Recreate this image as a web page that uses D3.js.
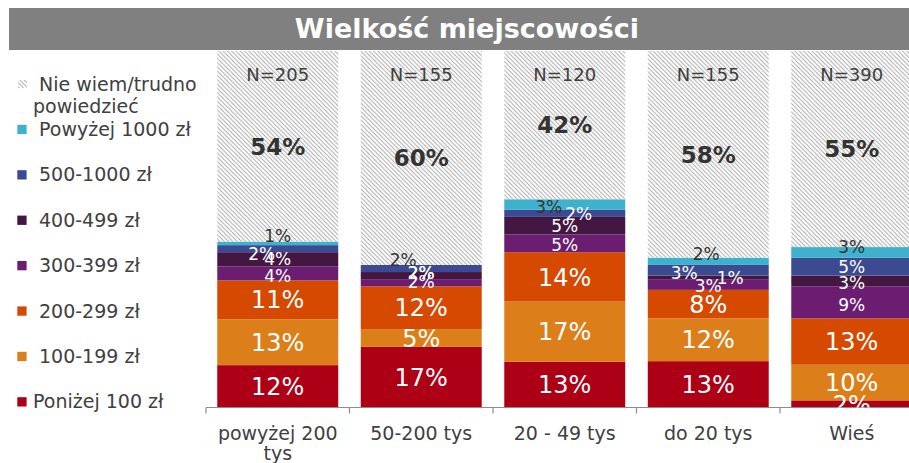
<!DOCTYPE html>
<html>
<head>
<meta charset="utf-8">
<script src="https://cdn.jsdelivr.net/npm/d3@7"></script>
<style>
  html, body { margin: 0; padding: 0; background: #fff; }
  svg { display: block; font-family: "DejaVu Sans", Verdana, sans-serif; }
</style>
</head>
<body>
<svg id="chart" width="909" height="463"></svg>
<script>
// ---------- DATA ----------
const title = "Wielkość miejscowości";
const categories = ["powyżej 200 tys", "50-200 tys", "20 - 49 tys", "do 20 tys", "Wieś"];
const sampleSizes = [205, 155, 120, 155, 390];

const seriesNames = ["Poniżej 100 zł", "100-199 zł", "200-299 zł", "300-399 zł", "400-499 zł", "500-1000 zł", "Powyżej 1000 zł", "Nie wiem/trudno powiedzieć"];
const below100   = [12, 17, 13, 13, 2];
const from100    = [13, 5, 17, 12, 10];
const from200    = [11, 12, 14, 8, 13];
const from300    = [4, 2, 5, 3, 9];
const from400    = [4, 2, 5, 1, 3];
const from500    = [2, 2, 2, 3, 5];
const above1000  = [1, 0, 3, 2, 3];
const dontKnow   = [54, 60, 42, 58, 55];
// label text shown where the printed label differs from the drawn segment
const labelOverride = { "50-200 tys|Powyżej 1000 zł": "2%" };

// ---------- STYLE ----------
const colors = {
  "Poniżej 100 zł": "#AD0017",
  "100-199 zł": "#DC7F1B",
  "200-299 zł": "#D54A00",
  "300-399 zł": "#6B1E71",
  "400-499 zł": "#431741",
  "500-1000 zł": "#3C4A92",
  "Powyżej 1000 zł": "#3EB1CD",
  "Nie wiem/trudno powiedzieć": "url(#hatch)"
};
// small-label nudges (Excel collision handling), [dx, dy]
const nudges = {
  "powyżej 200 tys|Powyżej 1000 zł": [0, -7], "powyżej 200 tys|500-1000 zł": [-16, 5.5], "powyżej 200 tys|300-399 zł": [0, 3],
  "50-200 tys|Powyżej 1000 zł": [-18, -5], "50-200 tys|500-1000 zł": [0, 4], "50-200 tys|400-499 zł": [0, -3], "50-200 tys|300-399 zł": [0, -1],
  "20 - 49 tys|Powyżej 1000 zł": [-16, 2], "20 - 49 tys|500-1000 zł": [14, 1], "20 - 49 tys|300-399 zł": [0, 1.5],
  "do 20 tys|Powyżej 1000 zł": [-2, -7], "do 20 tys|500-1000 zł": [-24, 2.6], "do 20 tys|400-499 zł": [22, 1], "do 20 tys|300-399 zł": [0, 1],
  "Wieś|Powyżej 1000 zł": [0, -5.5], "Wieś|400-499 zł": [0, 2], "Wieś|300-399 zł": [0, 3]
};

const W = 909, H = 463;
const plotLeft = 206, step = 143.5, plotTop = 51, plotBottom = 407.5;

const svg = d3.select("#chart");
const defs = svg.append("defs");
const pat = defs.append("pattern").attr("id", "hatch").attr("patternUnits", "userSpaceOnUse")
  .attr("width", 4.3).attr("height", 4.3);
pat.append("rect").attr("width", 4.3).attr("height", 4.3).attr("fill", "#fff");
pat.append("path").attr("d", "M-1,-1 L5.3,5.3 M3.3,-1 L5.3,1 M-1,3.3 L1,5.3")
  .attr("stroke", "#a4a4a4").attr("stroke-width", 0.9);
defs.append("clipPath").attr("id", "plotclip").append("rect")
  .attr("x", 0).attr("y", 0).attr("width", W).attr("height", plotBottom);

// Title band
svg.append("rect").attr("x", 9).attr("y", 8).attr("width", 920).attr("height", 42).attr("fill", "#808080");
svg.append("text").attr("x", 467).attr("y", 38).attr("text-anchor", "middle")
  .attr("fill", "#fff").attr("font-weight", "bold").attr("font-size", 27).text(title);

// Table
const seriesValues = [below100, from100, from200, from300, from400, from500, above1000, dontKnow];
const table = categories.map((c, i) => {
  const row = { category: c, n: sampleSizes[i] };
  seriesNames.forEach((s, j) => row[s] = seriesValues[j][i]);
  return row;
});

const stack = d3.stack().keys(seriesNames).offset(d3.stackOffsetExpand);
const stacked = stack(table);

const x = d3.scaleBand().domain(categories)
  .range([plotLeft, plotLeft + step * categories.length])
  .paddingInner(0.157).paddingOuter(0.0785);
const y = d3.scaleLinear().domain([0, 1]).range([plotBottom, plotTop]);

// Bars
const g = svg.append("g");
stacked.forEach(layer => {
  g.append("g").selectAll("rect").data(layer).join("rect")
    .attr("x", d => x(d.data.category))
    .attr("width", x.bandwidth())
    .attr("y", d => y(d[1]))
    .attr("height", d => Math.max(0, y(d[0]) - y(d[1])))
    .attr("fill", colors[layer.key]);
});

// Axis
const axisG = svg.append("g").attr("transform", `translate(0,${plotBottom})`);
axisG.append("line").attr("x1", plotLeft).attr("x2", W).attr("y1", 0).attr("y2", 0)
  .attr("stroke", "#8c8c8c").attr("stroke-width", 1.2);
const gap = (x.step() - x.bandwidth()) / 2;
const boundaries = categories.map(c => x(c) - gap);
axisG.selectAll("line.tick").data(boundaries).join("line").attr("class", "tick")
  .attr("x1", d => d).attr("x2", d => d).attr("y1", 0).attr("y2", 6)
  .attr("stroke", "#8c8c8c").attr("stroke-width", 1.2);

function wrapLines(text, maxW, fontSize) {
  const words = text.split(" ");
  const lines = [];
  let cur = "";
  const approx = s => s.length * fontSize * 0.56;
  words.forEach(w => {
    const t = cur ? cur + " " + w : w;
    if (approx(t) > maxW && cur) { lines.push(cur); cur = w; } else cur = t;
  });
  lines.push(cur);
  return lines;
}
categories.forEach(c => {
  const lines = wrapLines(c, 128, 19);
  const t = svg.append("text").attr("text-anchor", "middle").attr("font-size", 19).attr("fill", "#404040");
  lines.forEach((ln, i) => t.append("tspan").attr("x", x(c) + x.bandwidth() / 2).attr("y", 440 + i * 20).text(ln));
});

// Labels
const lab = svg.append("g").attr("clip-path", "url(#plotclip)");
const bigSeries = ["Poniżej 100 zł", "100-199 zł", "200-299 zł"];
stacked.forEach(layer => {
  const key = layer.key;
  layer.forEach(d => {
    const cat = d.data.category;
    const v = d.data[key];
    const id = cat + "|" + key;
    const txt = labelOverride[id] || (v > 0 ? v + "%" : null);
    if (!txt) return;
    const nd = nudges[id] || [0, 0];
    const cx = x(cat) + x.bandwidth() / 2 + nd[0];
    const cy = (y(d[0]) + y(d[1])) / 2 + nd[1];
    let size = 17, fill = "#fff", weight = "normal";
    if (bigSeries.includes(key)) size = 24;
    if (key === "Powyżej 1000 zł") fill = "#333";
    if (key === seriesNames[7]) { size = 23; fill = "#333"; weight = "bold"; }
    lab.append("text").attr("x", cx).attr("y", cy).attr("dy", "0.36em")
      .attr("text-anchor", "middle").attr("font-size", size).attr("font-weight", weight)
      .attr("fill", fill).text(txt);
  });
});
// N labels
svg.append("g").selectAll("text").data(table).join("text")
  .attr("x", d => x(d.category) + x.bandwidth() / 2).attr("y", 75).attr("dy", "0.36em")
  .attr("text-anchor", "middle").attr("font-size", 18).attr("fill", "#404040")
  .text(d => "N=" + d.n);

// Legend
const legendOrder = seriesNames.slice().reverse();
const leg = svg.append("g");
legendOrder.forEach((s, i) => {
  const base = i === 0 ? 90.7 : 136 + 45.4 * (i - 1);
  const isHatch = i === 0;
  leg.append("rect").attr("x", isHatch ? 18 : 17.3).attr("y", base - 6.6 - (isHatch ? 4 : 4.6))
    .attr("width", isHatch ? 9 : 9.3).attr("height", isHatch ? 8 : 9.3).attr("fill", colors[s]);
  const tx = s === "Poniżej 100 zł" ? 33 : 39;
  if (isHatch) {
    const t = leg.append("text").attr("font-size", 19).attr("fill", "#404040");
    t.append("tspan").attr("x", 39).attr("y", base).text("Nie wiem/trudno");
    t.append("tspan").attr("x", 33).attr("y", base + 22.6).text("powiedzieć");
  } else {
    leg.append("text").attr("x", tx).attr("y", base).attr("font-size", 19).attr("fill", "#404040").text(s);
  }
});
</script>
</body>
</html>
